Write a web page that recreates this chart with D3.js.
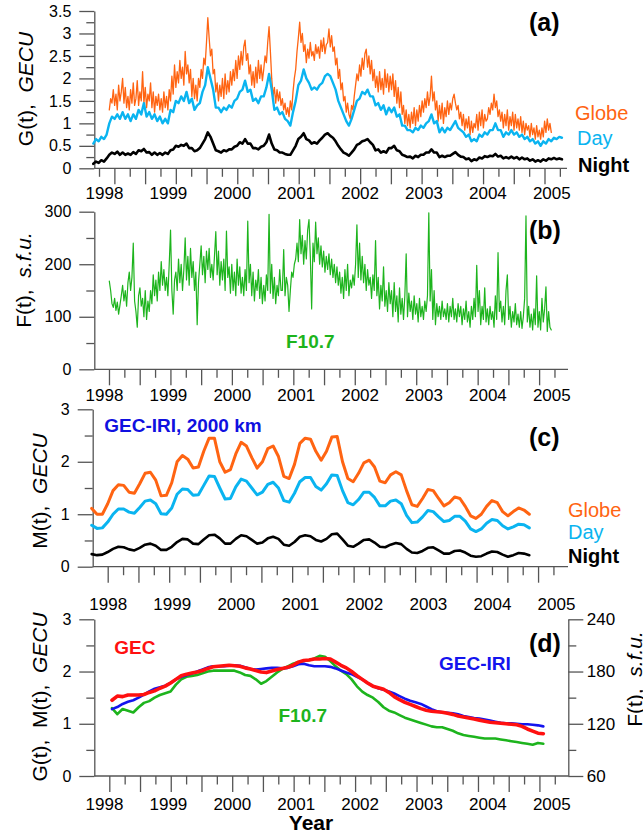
<!DOCTYPE html>
<html>
<head>
<meta charset="utf-8">
<script src="https://cdn.jsdelivr.net/npm/d3@7"></script>
<style>
  body { margin: 0; background: #fff; }
  svg { display: block; font-family: "Liberation Sans", Arial, sans-serif; }
</style>
</head>
<body>
<svg id="chart" width="643" height="836"></svg>
<script>
// ---- data ----
const years = [1998, 1999, 2000, 2001, 2002, 2003, 2004, 2005];

// (a) GEC from GPS: Globe weekly, Day/Night half-month samples
const aGlobeStep = 1 / 48;
const aGlobeStart = 1998.083;
const aGlobe = [1.3,1.55,1.45,1.75,1.4,1.65,1.3,1.85,1.5,1.7,2.0,1.45,1.8,1.35,1.6,1.3,1.75,1.45,1.9,1.4,
  1.55,1.95,1.4,1.7,1.5,2.15,1.45,1.8,1.35,1.65,1.5,1.9,1.35,1.7,1.25,1.6,1.4,1.65,1.3,1.55,1.25,1.7,1.35,1.6,
  1.3,1.75,1.5,2.05,1.65,2.3,1.8,2.15,1.9,2.4,2.0,2.25,1.85,2.6,2.1,2.3,1.9,2.2,1.6,2.0,1.55,1.85,1.5,2.0,
  1.8,2.2,2.0,2.45,2.3,2.8,3.35,2.9,2.5,2.65,2.1,2.2,1.7,1.9,1.5,1.85,1.6,2.0,1.55,2.1,1.65,1.95,1.7,2.15,
  1.85,2.2,1.95,2.4,2.0,2.5,2.2,2.6,2.3,2.7,2.85,2.4,2.55,2.1,2.3,1.85,2.15,1.8,2.25,1.9,2.4,2.0,2.3,1.95,
  2.2,2.5,2.35,2.8,3.15,2.6,2.0,1.6,1.8,1.45,1.75,1.5,1.7,1.4,1.55,1.3,1.45,1.2,1.35,1.15,1.5,1.3,1.7,2.0,
  2.2,2.6,2.9,3.25,2.8,3.0,2.6,2.75,2.35,2.65,2.45,2.8,2.5,2.6,2.4,2.75,2.55,2.7,2.45,2.85,2.6,2.9,2.55,2.75,
  2.8,3.1,2.7,2.95,2.6,2.7,2.3,2.45,2.0,2.2,1.75,1.9,1.5,1.6,1.25,1.45,1.2,1.1,1.4,1.3,1.6,1.85,2.1,1.95,
  2.3,2.05,2.45,2.2,2.55,2.65,2.25,2.5,2.1,2.4,1.95,2.2,1.8,2.05,1.7,2.15,1.75,2.0,1.65,2.2,1.8,2.1,1.7,2.05,
  1.75,2.1,1.6,1.95,1.45,1.8,1.35,1.7,1.2,1.4,1.0,1.3,0.95,1.2,0.9,1.25,1.0,1.35,0.95,1.3,1.05,1.4,1.15,1.5,
  1.25,1.55,1.35,1.7,1.4,1.6,2.05,1.5,1.7,1.3,1.5,1.05,1.4,1.1,1.45,1.0,1.35,1.15,1.5,1.2,1.45,1.3,1.55,1.65,
  1.45,1.3,1.4,1.1,1.25,0.95,1.2,0.85,1.1,0.9,1.15,0.75,1.05,0.8,1.0,0.9,1.2,0.85,1.25,0.95,1.3,0.9,1.2,1.05,
  1.1,1.35,1.2,1.45,1.3,1.65,1.35,1.5,1.15,1.3,1.05,1.25,0.9,1.2,0.95,1.3,0.85,1.15,0.95,1.25,0.85,1.2,0.9,1.1,
  0.85,1.15,0.8,1.05,0.75,1.0,0.85,0.95,0.7,1.0,0.75,0.9,0.65,0.95,0.7,0.85,0.65,0.9,0.7,1.05,0.8,1.1,0.85,1.0,0.8];
const aStep = 1 / 24;
const aDayStart = 1997.833;
const aDay = [0.55,0.65,0.6,0.7,0.65,0.75,1.0,1.15,1.1,1.2,
  1.1,1.25,1.1,1.2,1.05,1.2,1.1,1.3,1.2,1.45,
  1.15,1.25,1.1,1.2,1.05,1.15,1.0,1.1,1.0,1.3,
  1.25,1.5,1.45,1.6,1.5,1.7,1.45,1.55,1.3,1.4,
  1.45,1.7,1.85,2.25,2.0,1.75,1.35,1.35,1.25,1.35,
  1.3,1.4,1.35,1.5,1.55,1.7,1.75,1.95,1.7,1.75,
  1.5,1.55,1.45,1.6,1.6,1.8,2.1,1.75,1.3,1.35,
  1.2,1.25,1.1,1.05,0.95,1.25,1.5,1.85,1.95,2.2,
  2.0,1.9,1.75,1.8,1.75,1.85,1.9,2.05,2.1,2.05,
  1.9,1.75,1.5,1.35,1.2,1.05,0.95,1.1,1.3,1.5,
  1.55,1.7,1.65,1.75,1.6,1.6,1.4,1.45,1.3,1.4,
  1.2,1.35,1.25,1.35,1.15,1.2,0.95,0.95,0.85,0.85,
  0.8,0.9,0.85,0.95,0.9,1.0,1.05,1.2,1.0,1.05,
  0.8,0.9,0.8,0.9,0.85,0.95,1.05,0.9,0.85,0.8,
  0.7,0.75,0.6,0.65,0.6,0.75,0.7,0.8,0.75,0.85,
  0.85,1.0,0.85,0.85,0.7,0.8,0.75,0.85,0.75,0.8,
  0.7,0.75,0.65,0.7,0.6,0.65,0.55,0.6,0.5,0.6,
  0.55,0.65,0.6,0.68,0.65,0.7,0.68];
const aNight = [0.1,0.15,0.12,0.18,0.15,0.22,0.3,0.35,0.32,0.37,
  0.3,0.35,0.3,0.33,0.3,0.36,0.32,0.4,0.38,0.43,
  0.35,0.36,0.3,0.35,0.3,0.34,0.3,0.35,0.32,0.4,
  0.42,0.5,0.48,0.52,0.5,0.55,0.45,0.45,0.38,0.4,
  0.45,0.55,0.65,0.8,0.7,0.55,0.4,0.38,0.35,0.4,
  0.38,0.42,0.42,0.48,0.5,0.58,0.55,0.65,0.55,0.55,
  0.45,0.45,0.42,0.48,0.5,0.58,0.75,0.55,0.42,0.4,
  0.35,0.35,0.32,0.3,0.3,0.4,0.5,0.65,0.7,0.78,
  0.65,0.62,0.55,0.58,0.55,0.62,0.68,0.75,0.78,0.72,
  0.68,0.6,0.5,0.42,0.35,0.32,0.28,0.35,0.42,0.52,
  0.55,0.6,0.62,0.65,0.58,0.52,0.4,0.42,0.35,0.38,
  0.35,0.45,0.45,0.5,0.4,0.38,0.3,0.28,0.25,0.26,
  0.22,0.28,0.25,0.3,0.3,0.35,0.35,0.42,0.35,0.35,
  0.25,0.28,0.25,0.28,0.28,0.32,0.36,0.3,0.26,0.25,
  0.2,0.22,0.16,0.2,0.18,0.24,0.22,0.27,0.25,0.28,
  0.27,0.32,0.26,0.28,0.22,0.25,0.22,0.26,0.22,0.25,
  0.2,0.24,0.2,0.22,0.17,0.2,0.15,0.18,0.15,0.2,
  0.17,0.22,0.2,0.23,0.2,0.22,0.2];

// (b) F10.7 solar flux, s.f.u., weekly samples
const bStep = 1 / 48;
const bStart = 1998.083;
const bF107 = [168,150,125,118,135,112,128,105,122,140,160,130,150,120,165,185,150,175,240,130,
  110,80,140,155,120,135,100,150,95,130,110,150,125,180,140,170,130,185,150,205,160,190,150,175,
  140,200,265,150,105,170,185,150,210,165,200,150,190,250,170,215,160,230,175,205,150,185,85,165,
  200,235,180,215,165,225,190,230,175,200,170,215,262,180,225,160,205,170,210,150,263,175,195,145,
  200,150,185,140,210,160,195,145,175,140,190,150,282,165,200,140,185,130,170,150,190,135,175,125,
  160,130,180,150,295,145,200,135,175,125,160,140,190,150,150,228,140,175,160,110,150,185,175,200,
  210,240,205,285,220,255,200,245,210,265,285,215,115,240,205,280,220,250,200,235,195,225,185,215,
  190,220,180,210,175,200,165,195,160,185,145,175,135,190,150,200,140,170,155,180,160,200,275,175,
  240,170,215,165,200,150,190,160,175,135,180,150,245,140,175,115,160,130,195,120,150,110,165,125,
  150,100,165,110,140,90,155,105,135,95,140,220,100,145,110,130,95,140,105,125,90,135,100,120,
  95,130,110,140,298,130,190,95,150,85,125,100,120,95,130,100,115,95,125,90,120,100,135,95,
  115,90,125,100,120,85,115,95,130,90,110,80,120,95,135,100,198,110,150,85,120,95,155,90,
  115,85,120,95,110,80,140,95,222,110,130,90,120,85,150,180,95,120,80,110,90,125,85,105,
  80,110,78,100,135,292,90,120,80,105,75,115,85,178,80,110,75,135,90,115,157,72,110,80,75];

// (c) GEC-IRI model, monthly
const cStep = 1 / 12;
const cStart = 1997.75;
const cGlobe = [1.11,1.0,1.0,1.2,1.45,1.56,1.55,1.42,1.4,1.58,
  1.78,1.8,1.65,1.35,1.36,1.6,2.0,2.12,2.05,1.88,
  1.9,2.2,2.45,2.45,2.0,1.8,1.85,2.15,2.37,2.3,
  2.08,1.88,2.0,2.25,2.3,2.1,1.72,1.68,1.95,2.35,
  2.45,2.43,2.2,2.03,2.2,2.47,2.48,2.0,1.68,1.62,
  1.78,1.98,2.03,1.9,1.63,1.6,1.75,1.81,1.75,1.45,
  1.18,1.15,1.3,1.47,1.45,1.3,1.16,1.22,1.33,1.3,
  1.15,0.97,0.92,1.0,1.15,1.26,1.22,1.05,0.97,1.05,
  1.12,1.08,1.0];
const cDay = [0.79,0.73,0.74,0.85,1.0,1.1,1.1,1.04,1.02,1.13,
  1.25,1.27,1.2,1.01,1.0,1.12,1.38,1.48,1.47,1.36,
  1.37,1.55,1.73,1.72,1.5,1.29,1.3,1.52,1.67,1.63,
  1.5,1.37,1.42,1.57,1.61,1.5,1.26,1.23,1.4,1.62,
  1.7,1.7,1.53,1.46,1.58,1.75,1.74,1.45,1.22,1.18,
  1.28,1.42,1.42,1.32,1.16,1.16,1.25,1.27,1.2,0.98,
  0.84,0.85,0.95,1.07,1.05,0.95,0.86,0.88,0.96,0.96,
  0.87,0.72,0.67,0.72,0.83,0.9,0.88,0.78,0.72,0.76,
  0.81,0.8,0.74];
const cNight = [0.24,0.22,0.23,0.28,0.34,0.38,0.37,0.33,0.31,0.36,
  0.42,0.44,0.4,0.32,0.32,0.38,0.47,0.53,0.52,0.44,
  0.43,0.52,0.6,0.61,0.54,0.44,0.44,0.53,0.6,0.58,
  0.51,0.44,0.46,0.54,0.57,0.53,0.42,0.4,0.47,0.57,
  0.6,0.58,0.51,0.48,0.53,0.62,0.63,0.52,0.4,0.38,
  0.44,0.51,0.52,0.46,0.38,0.37,0.42,0.45,0.43,0.34,
  0.27,0.26,0.3,0.36,0.37,0.31,0.25,0.25,0.3,0.31,
  0.27,0.21,0.19,0.2,0.25,0.29,0.28,0.23,0.19,0.22,
  0.26,0.25,0.22];

// (d) smoothed GEC, GEC-IRI (GECU) and F10.7 (s.f.u.), monthly
const dStart = 1998.125;
const dGec = [1.45,1.53,1.52,1.55,1.55,1.55,1.56,1.6,1.63,1.68,
  1.72,1.78,1.85,1.92,1.95,1.97,1.99,2.02,2.06,2.09,
  2.1,2.11,2.12,2.11,2.1,2.07,2.05,2.02,1.99,1.98,
  2.01,2.04,2.06,2.08,2.12,2.18,2.21,2.22,2.24,2.24,
  2.25,2.24,2.18,2.12,2.07,2.0,1.92,1.85,1.78,1.72,
  1.69,1.66,1.6,1.52,1.46,1.41,1.37,1.33,1.29,1.26,
  1.24,1.23,1.22,1.2,1.18,1.15,1.13,1.11,1.09,1.07,
  1.05,1.03,1.02,1.01,1.0,0.99,0.98,0.95,0.9,0.86,
  0.82,0.81];
const dIri = [1.28,1.32,1.38,1.42,1.45,1.5,1.56,1.62,1.67,1.7,
  1.73,1.78,1.85,1.9,1.93,1.96,2.0,2.04,2.08,2.1,
  2.1,2.1,2.11,2.12,2.11,2.08,2.05,2.04,2.05,2.06,
  2.07,2.07,2.06,2.07,2.1,2.14,2.15,2.12,2.1,2.1,
  2.1,2.09,2.06,2.02,1.98,1.95,1.9,1.85,1.78,1.72,
  1.68,1.65,1.62,1.58,1.53,1.48,1.44,1.41,1.38,1.33,
  1.28,1.24,1.22,1.21,1.2,1.18,1.15,1.13,1.11,1.1,
  1.08,1.06,1.04,1.02,1.01,1.01,1.0,0.99,0.99,0.98,
  0.97,0.95];
const dF107 = [138,131,137,135,133,139,144,146,150,153,
  155,157,165,171,174,175,176,178,180,181,
  181,181,181,181,179,176,175,171,166,169,
  174,179,183,186,189,191,192,193,195,198,
  197,192,186,181,177,171,163,157,153,150,
  145,139,135,133,130,127,125,123,121,119,
  117,116,116,114,112,109,107,106,105,104,
  103,103,103,102,101,100,99,98,97,96,
  98,97];

// ---- drawing ----
const svg = d3.select('#chart');
const AXIS = '#555';
const C = { globe: '#ff6412', day: '#0ab4f0', night: '#000', green: '#1db41d', red: '#ff1010', blue: '#1414ee' };

const series = (vals, start, step) => vals.map((v, i) => ({ t: start + i * step, v }));

function styleAxis(g, size) {
  g.selectAll('.domain, .tick line').attr('stroke', AXIS).attr('stroke-width', 1.3);
  g.selectAll('text').attr('font-size', size).attr('fill', '#000');
  g.attr('font-family', null).attr('font-size', null);
}

// one panel's frame: y axis with minor ticks, x axis line, quarter ticks and year labels
function frame(p) {
  const g = svg.append('g');
  const y0 = p.y(0);

  const minor = g.append('g').attr('transform', `translate(${p.left},0)`)
    .call(d3.axisLeft(p.y).tickValues(p.yMinor).tickSize(8).tickFormat(''));
  minor.select('.domain').remove();
  styleAxis(minor, 16);

  const major = g.append('g').attr('transform', `translate(${p.left},0)`)
    .call(d3.axisLeft(p.y).tickValues(p.yMajor).tickSize(15).tickSizeOuter(0).tickPadding(8).tickFormat(p.yFmt));
  styleAxis(major, 16);

  g.append('line').attr('x1', p.left).attr('x2', p.right).attr('y1', y0).attr('y2', y0)
    .attr('stroke', AXIS).attr('stroke-width', 1.3);

  const ticks = d3.range(p.tickCount).map(i => ({ i, t: p.tickFirst + i * p.tickStep }));
  const longT = ticks.filter(d => d.i % 2 === p.longParity).map(d => d.t);
  const shortT = ticks.filter(d => d.i % 2 !== p.longParity).map(d => d.t);
  [[longT, 16], [shortT, 8.5]].forEach(([vals, len]) => {
    const ax = g.append('g').attr('transform', `translate(0,${y0})`)
      .call(d3.axisBottom(p.x).tickValues(vals).tickSize(len).tickFormat(''));
    ax.select('.domain').remove();
    styleAxis(ax, 17);
  });

  const lab = g.append('g').attr('transform', `translate(0,${y0 + p.labelOffset})`)
    .call(d3.axisBottom(p.x).tickValues(years).tickSize(0).tickPadding(0).tickFormat(d3.format('d')));
  lab.select('.domain').remove();
  styleAxis(lab, 17);
  lab.selectAll('text').attr('y', 0).attr('dy', '0.36em');
  return g;
}

function drawLine(data, x, y, color, width) {
  svg.append('path').datum(data)
    .attr('fill', 'none').attr('stroke', color).attr('stroke-width', width)
    .attr('stroke-linejoin', 'round').attr('stroke-linecap', 'round')
    .attr('d', d3.line().x(d => x(d.t)).y(d => y(d.v)));
}

function label(txt, x, y, color, size, weight) {
  svg.append('text').attr('x', x).attr('y', y).attr('dy', '0.36em')
    .attr('fill', color).attr('font-size', size).attr('font-weight', weight || 'normal')
    .text(txt);
}

function yTitle(parts, x, y) {
  const t = svg.append('text').attr('transform', `translate(${x},${y}) rotate(-90)`)
    .attr('text-anchor', 'middle').attr('font-size', 21).attr('fill', '#000');
  parts.forEach(([s, it]) => t.append('tspan').attr('font-style', it ? 'italic' : 'normal').text(s));
}

const qStep = 0.2404;

// ---- panel (a)
const xa = d3.scaleLinear().domain([1998, 2005]).range([104, 551.3]);
const ya = d3.scaleLinear().domain([0, 3.5]).range([168.3, 11]);
frame({ x: xa, y: ya, left: 94.3, right: 567, yMajor: d3.range(0, 3.51, 0.5), yMinor: d3.range(0.25, 3.5, 0.5),
  yFmt: d3.format('~g'), tickFirst: 1997.922, tickStep: qStep, tickCount: 31, longParity: 1, labelOffset: 25 });
drawLine(series(aGlobe, aGlobeStart, aGlobeStep), xa, ya, C.globe, 1.3);
drawLine(series(aDay, aDayStart, aStep), xa, ya, C.day, 2.4);
drawLine(series(aNight, aDayStart, aStep), xa, ya, C.night, 2.6);
label('Globe', 575, 113, C.globe, 20);
label('Day', 577, 138, C.day, 20);
label('Night', 578, 165, '#000', 20, 'bold');
label('(a)', 529, 22, '#000', 25, 'bold');
yTitle([['G(t),\u00a0\u00a0', false], ['GECU', true]], 33, 89);

// ---- panel (b)
const xb = d3.scaleLinear().domain([1998, 2005]).range([104, 551.3]);
const yb = d3.scaleLinear().domain([0, 300]).range([369.3, 211.7]);
frame({ x: xb, y: yb, left: 94.3, right: 568, yMajor: [0, 100, 200, 300], yMinor: [50, 150, 250],
  yFmt: d3.format('d'), tickFirst: 1998.078, tickStep: qStep, tickCount: 30, longParity: 0, labelOffset: 26 });
drawLine(series(bF107, bStart, bStep), xb, yb, C.green, 1.2);
label('F10.7', 286, 341, C.green, 19, 'bold');
label('(b)', 529, 230, '#000', 25, 'bold');
yTitle([['F(t),\u00a0\u00a0', false], ['s.f.u.', true]], 31, 280);

// ---- panel (c)
const xc = d3.scaleLinear().domain([1998, 2005]).range([107.7, 556]);
const yc = d3.scaleLinear().domain([0, 3]).range([566.7, 409.3]);
frame({ x: xc, y: yc, left: 92.7, right: 568, yMajor: [0, 1, 2, 3], yMinor: [0.5, 1.5, 2.5],
  yFmt: d3.format('d'), tickFirst: 1998.0, tickStep: 0.24, tickCount: 30, longParity: 0, labelOffset: 37.5 });
drawLine(series(cGlobe, cStart, cStep), xc, yc, C.globe, 3);
drawLine(series(cDay, cStart, cStep), xc, yc, C.day, 3);
drawLine(series(cNight, cStart, cStep), xc, yc, C.night, 2.6);
label('GEC-IRI, 2000 km', 104.3, 425, '#1010e0', 19, 'bold');
label('Globe', 568, 510, C.globe, 20);
label('Day', 568, 532, C.day, 20);
label('Night', 568, 556, '#000', 20, 'bold');
label('(c)', 529, 437, '#000', 25, 'bold');
yTitle([['M(t),\u00a0\u00a0', false], ['GECU', true]], 47, 491);

// ---- panel (d)
const xd = d3.scaleLinear().domain([1998, 2005]).range([104, 551.3]);
const yd = d3.scaleLinear().domain([0, 3]).range([776, 619.3]);
const yf = d3.scaleLinear().domain([60, 240]).range([776, 619.3]);
frame({ x: xd, y: yd, left: 94.3, right: 568.3, yMajor: [0, 1, 2, 3], yMinor: [0.5, 1.5, 2.5],
  yFmt: d3.format('d'), tickFirst: 1998.083, tickStep: qStep, tickCount: 30, longParity: 0, labelOffset: 27.7 });
const rMinor = svg.append('g').attr('transform', 'translate(568.3,0)')
  .call(d3.axisRight(yf).tickValues([90, 150, 210]).tickSize(8).tickFormat(''));
rMinor.select('.domain').remove();
styleAxis(rMinor, 17);
const rMajor = svg.append('g').attr('transform', 'translate(568.3,0)')
  .call(d3.axisRight(yf).tickValues([60, 120, 180, 240]).tickSize(15).tickSizeOuter(0).tickPadding(3.5));
styleAxis(rMajor, 17);

drawLine(series(dF107, dStart, cStep), xd, yf, C.green, 2.6);
drawLine(series(dIri, dStart, cStep), xd, yd, C.blue, 2.6);
drawLine(series(dGec, dStart, cStep), xd, yd, C.red, 3.6);
label('GEC', 114.3, 647, C.red, 19, 'bold');
label('GEC-IRI', 439, 663, C.blue, 19, 'bold');
label('F10.7', 278.5, 715, C.green, 19, 'bold');
label('(d)', 529, 643, '#000', 25, 'bold');
yTitle([['G(t),\u00a0\u00a0M(t),\u00a0\u00a0', false], ['GECU', true]], 46.7, 697);
yTitle([['F(t),\u00a0\u00a0', false], ['s.f.u.', true]], 641.7, 679);

svg.append('text').attr('x', 311).attr('y', 822).attr('dy', '0.36em').attr('text-anchor', 'middle')
  .attr('font-size', 21).attr('font-weight', 'bold').text('Year');
</script>
</body>
</html>
